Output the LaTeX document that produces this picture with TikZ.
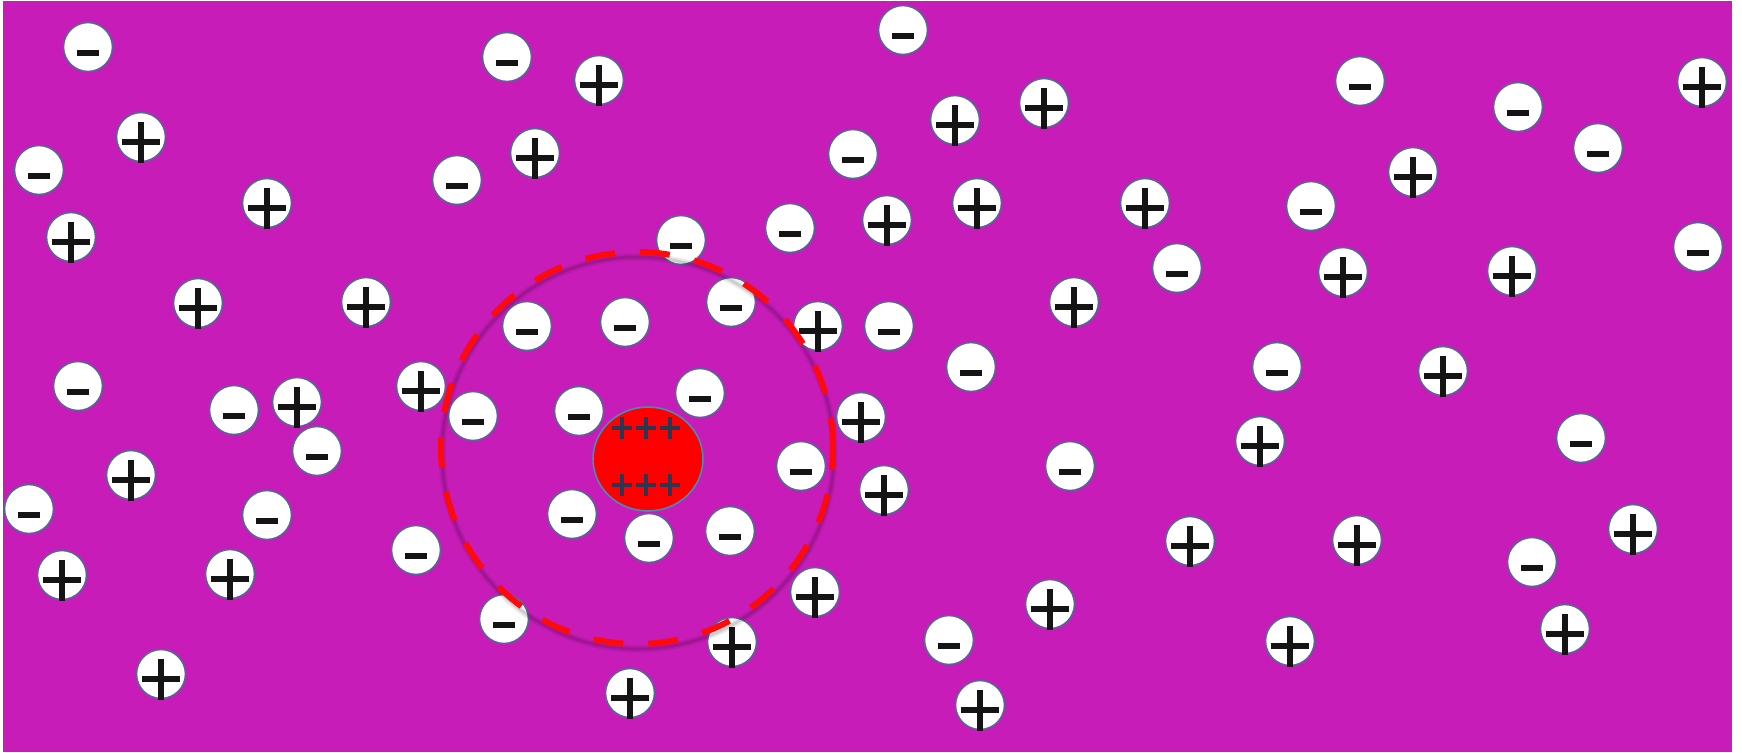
\documentclass[tikz,border=0pt]{standalone}
\usetikzlibrary{calc,shapes.geometric}
\definecolor{bgmag}{HTML}{C71CB7}
\definecolor{ionrim}{HTML}{5A6498}
\definecolor{coreRed}{HTML}{FF0000}
\definecolor{coreRim}{HTML}{4A8AB8}
\definecolor{corePlus}{HTML}{2B3752}
\definecolor{ringRed}{HTML}{FF0A0A}
\tikzset{
  ionbody/.style={circle, draw=ionrim, line width=0.8pt, fill=white, minimum size=24.5pt, inner sep=0pt},
  signline/.style={line width=3pt, draw=black!92},
  minusion/.pic={
    \node[ionbody] (-b) at (0,0) {};
    \draw[signline] (-11,6) -- (11,6);
  },
  plusion/.pic={
    \node[ionbody] (-b) at (0,0) {};
    \draw[signline] (-19,5) -- (19,5);
    \draw[signline] (0,-15) -- (0,26);
  },
  coreplus/.style={line width=2pt, draw=corePlus},
}
\begin{document}
\begin{tikzpicture}[x=0.5pt, y=-0.5pt]
\useasboundingbox (0,0) rectangle (1742,752);
\fill[white] (0,0) rectangle (1742,752);
\fill[bgmag] (3,1) rectangle (1732,752);
% negative ions
\foreach \x/\y [count=\i] in {88/47, 507/57, 903/30, 39/170, 457/180, 853/154, 1360/81, 1518/107, 1598/148, 1311/206, 1698/247, 681/240, 790/228, 1177/268, 527/326, 625/322, 731/302, 889/326, 971/367, 1277/367, 78/386, 234/410, 317/451, 473/416, 579/411, 700/393, 801/466, 1070/466, 1581/438, 29/509, 267/515, 416/550, 572/514, 649/538, 730/531, 1532/562, 504/619, 949/640}
  \pic (neg\i) at (\x,\y) {minusion};
% positive ions
\foreach \x/\y [count=\i] in {599/80, 141/137, 535/153, 955/120, 1044/103, 1702/82, 1413/172, 71/237, 267/203, 887/220, 977/203, 1145/203, 1343/272, 1512/271, 198/303, 366/302, 818/326, 1074/302, 1443/371, 421/386, 297/402, 861/417, 1260/441, 131/475, 884/490, 62/575, 230/574, 1190/541, 1357/540, 1633/529, 815/592, 1050/604, 1565/629, 732/642, 1290/641, 161/674, 630/693, 980/705}
  \pic (pos\i) at (\x,\y) {plusion};
% central charged particle
\node[ellipse, draw=coreRim, line width=0.8pt, fill=coreRed, minimum width=55pt, minimum height=52pt, inner sep=0pt] (core) at (648,459) {};
\foreach \cx in {622,646,670}{
  \foreach \cy in {428,485}{
    \draw[coreplus] (\cx-10,\cy) -- (\cx+10,\cy);
    \draw[coreplus] (\cx,\cy-11) -- (\cx,\cy+11);
  }
}
% ionic atmosphere boundary
\coordinate (ringc) at (637,448);
\draw[black, opacity=0.08, line width=3.5pt] ($(ringc)+(1,5)$) circle[radius=98pt];
\draw[black, opacity=0.12, line width=1.5pt] ($(ringc)+(1,5)$) circle[radius=98pt];
\draw[ringRed, line width=3pt, dash pattern=on 15pt off 12.5pt] (ringc) circle[radius=98pt];
\end{tikzpicture}
\end{document}
